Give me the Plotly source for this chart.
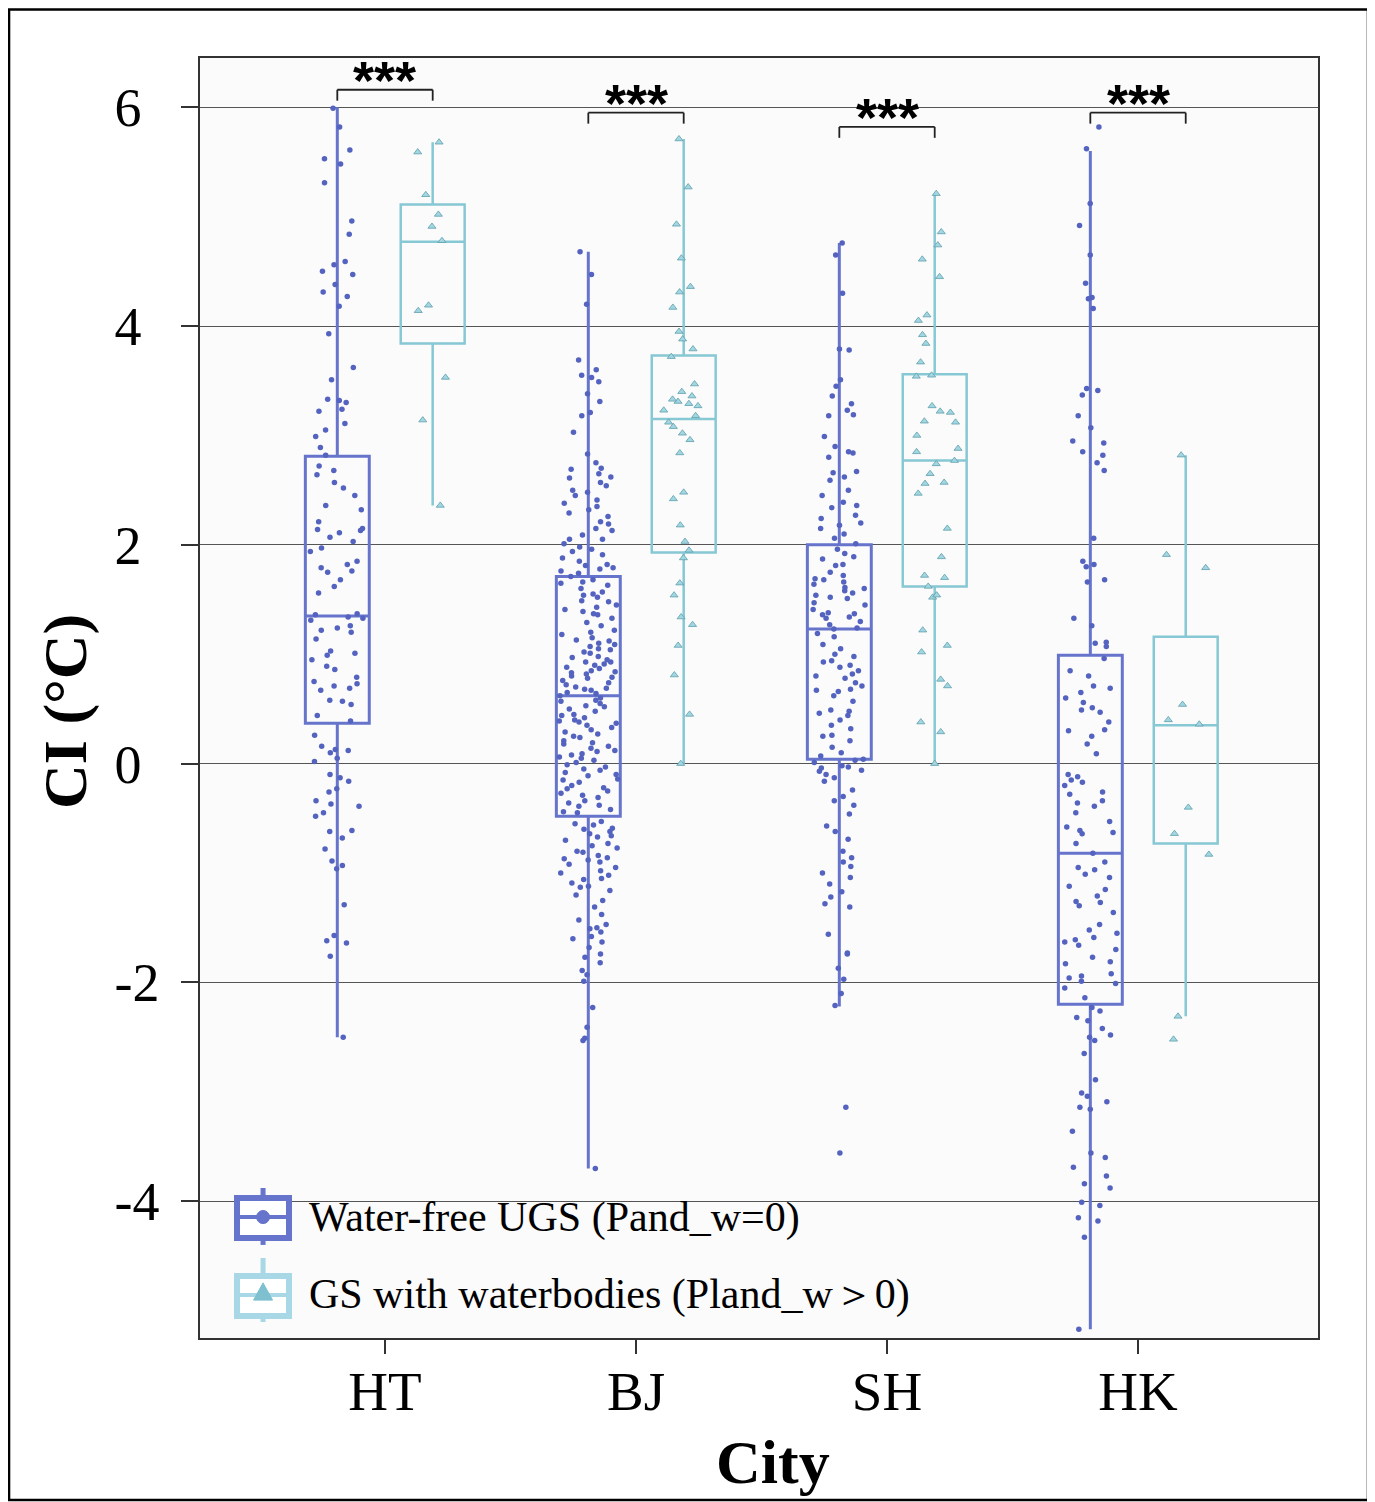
import plotly.graph_objects as go

# ---------------- data ----------------
cities = ["HT", "BJ", "SH", "HK"]
series_names = ["Water-free UGS (Pand_w=0)", "GS with waterbodies (Pland_w＞0)"]
x_title = "City"
y_title = "CI (°C)"

free_q1 = [0.37, -0.48, 0.04, -2.20]
free_median = [1.35, 0.62, 1.23, -0.82]
free_q3 = [2.81, 1.71, 2.00, 0.99]
free_lower = [-2.50, -3.70, -2.22, -5.17]
free_upper = [6.00, 4.68, 4.76, 5.60]

water_q1 = [3.84, 1.93, 1.62, -0.73]
water_median = [4.77, 3.15, 2.77, 0.35]
water_q3 = [5.11, 3.73, 3.56, 1.16]
water_lower = [2.36, 0.00, 0.00, -2.31]
water_upper = [5.68, 5.71, 5.21, 2.82]

ht_free = [5.99, 5.82, 5.61, 5.53, 5.48, 5.31, 4.96, 4.84, 4.59, 4.56, 4.50, 4.47, 4.38, 4.31,
           4.27, 4.18, 3.93, 3.62, 3.51, 3.33, 3.32, 3.30, 3.24, 3.22, 3.11, 3.05, 2.99, 2.89,
           2.82, 2.72, 2.68, 2.64, 2.57, 2.52, 2.45, 2.36, 2.32, 2.21, 2.15, 2.14, 2.13, 2.11,
           2.07, 2.03, 1.97, 1.94, 1.85, 1.82, 1.79, 1.76, 1.75, 1.68, 1.62, 1.56, 1.37, 1.36,
           1.34, 1.33, 1.31, 1.26, 1.24, 1.22, 1.20, 1.14, 1.03, 1.01, 0.99, 0.95, 0.89, 0.86,
           0.79, 0.75, 0.73, 0.71, 0.69, 0.67, 0.58, 0.57, 0.54, 0.44, 0.39, 0.26, 0.16, 0.13,
           0.12, 0.10, 0.05, 0.02, -0.10, -0.13, -0.16, -0.23, -0.26, -0.34, -0.37, -0.39,
           -0.45, -0.48, -0.61, -0.62, -0.68, -0.78, -0.89, -0.93, -0.96, -1.29, -1.57, -1.62,
           -1.64, -1.76, -2.50]

bj_free = [4.68, 4.47, 4.20, 3.69, 3.60, 3.55, 3.53, 3.49, 3.38, 3.31, 3.21, 3.18, 3.03, 2.83,
           2.75, 2.69, 2.65, 2.61, 2.57, 2.54, 2.48, 2.45, 2.41, 2.35, 2.29, 2.26, 2.21, 2.19,
           2.13, 2.09, 2.05, 2.01, 1.96, 1.94, 1.91, 1.85, 1.82, 1.81, 1.78, 1.76, 1.74, 1.71,
           1.68, 1.66, 1.63, 1.57, 1.54, 1.52, 1.49, 1.45, 1.41, 1.39, 1.36, 1.29, 1.26, 1.18,
           1.15, 1.12, 1.09, 1.07, 1.04, 1.02, 1.01, 0.98, 0.95, 0.93, 0.90, 0.88, 0.87, 0.84,
           0.83, 0.80, 0.78, 0.74, 0.72, 0.69, 0.67, 0.65, 0.62, 0.60, 0.57, 0.55, 0.52, 0.48,
           0.45, 0.42, 0.39, 0.38, 0.35, 0.33, 0.29, 0.27, 0.24, 0.21, 0.18, 0.14, 0.11, 0.09,
           0.06, 0.05, 0.01, -0.03, -0.06, -0.08, -0.11, -0.14, -0.17, -0.20, -0.23, -0.27,
           -0.29, -0.34, -0.36, -0.39, -0.42, -0.45, -0.53, -0.56, -0.59, -0.62, -0.64, -0.67,
           -0.73, -0.77, -0.80, -0.81, -0.84, -0.87, -0.90, -0.95, -1.00, -1.02, -1.06, -1.09,
           -1.12, -1.13, -1.16, -1.31, -1.43, -1.47, -1.50, -1.51, -1.54, -1.60, -1.63, -1.68,
           -1.74, -1.77, -1.82, -1.89, -1.93, -1.99, -2.23, -2.41, -2.51, -2.53, -3.70,
           1.60, 1.55, 1.43, 1.33, 1.22, 1.20, 1.13, 1.05, 0.97, 0.91, 0.85, 0.79, 0.76, 0.70,
           0.64, 0.58, 0.50, 0.44, 0.37, 0.31, 0.25, 0.19, 0.12, 0.08, 0.03, -0.01, -0.10,
           -0.15, -0.22, -0.31, -0.38, -0.44, 1.65, 1.48, 1.37, 1.10, 0.93, 0.82, 0.68, 0.53,
           0.40, 0.16, -0.05, -0.25, 2.70, 2.50, 2.32, 2.15, 2.05, 1.98, 1.88, 1.79, 2.62, 2.38,
           -0.55, -0.60, -0.70, -0.75, -0.86, -0.92, -0.98, -1.05, -1.20, -1.25, -0.66, -0.88,
           -1.38, -1.58]

sh_free = [4.76, 4.65, 4.30, 3.79, 3.78, 3.51, 3.45, 3.36, 3.29, 3.23, 3.19, 3.18, 2.99, 2.90,
           2.85, 2.84, 2.67, 2.66, 2.62, 2.59, 2.50, 2.39, 2.36, 2.34, 2.27, 2.24, 2.18, 2.15,
           2.10, 2.06, 2.01, 1.96, 1.89, 1.87, 1.82, 1.81, 1.72, 1.69, 1.68, 1.66, 1.64, 1.61,
           1.58, 1.56, 1.54, 1.52, 1.51, 1.47, 1.45, 1.38, 1.37, 1.36, 1.34, 1.33, 1.27, 1.24,
           1.23, 1.16, 1.09, 1.00, 0.98, 0.94, 0.90, 0.88, 0.82, 0.80, 0.78, 0.74, 0.71, 0.68,
           0.67, 0.66, 0.62, 0.49, 0.48, 0.46, 0.44, 0.35, 0.32, 0.26, 0.25, 0.21, 0.07, 0.04,
           0.03, 0.01, -0.02, -0.03, -0.04, -0.06, -0.07, -0.10, -0.13, -0.16, -0.24, -0.34,
           -0.38, -0.46, -0.57, -0.69, -0.80, -0.86, -0.90, -0.94, -1.00, -1.04, -1.17, -1.22,
           -1.28, -1.31, -1.56, -1.73, -1.74, -1.87, -1.97, -2.10, -2.21, -3.14, -3.56,
           1.92, 1.75, 1.60, 1.41, 1.30, 1.19, 1.05, 0.93, 0.85, 0.57, 0.40, 0.15, 0.10,
           2.45, 2.20, 2.80, -0.30, -0.62, -1.10]

hk_free = [5.82, 5.62, 5.12, 4.92, 4.65, 4.39, 4.26, 4.25, 4.16, 3.43, 3.41, 3.37, 3.18, 3.07,
           2.95, 2.93, 2.85, 2.82, 2.75, 2.68, 2.06, 1.85, 1.82, 1.80, 1.68, 1.66, 1.33, 1.26,
           1.11, 1.10, 1.07, 0.96, 0.85, 0.71, 0.69, 0.60, 0.56, 0.51, 0.49, 0.47, 0.38, 0.31,
           0.25, 0.18, 0.09, -0.10, -0.12, -0.15, -0.17, -0.26, -0.28, -0.34, -0.36, -0.39,
           -0.53, -0.58, -0.61, -0.63, -0.64, -0.73, -0.82, -0.95, -0.97, -1.01, -1.04, -1.12,
           -1.15, -1.21, -1.26, -1.27, -1.36, -1.47, -1.52, -1.55, -1.59, -1.61, -1.63, -1.66,
           -1.77, -1.81, -1.83, -1.92, -1.94, -1.96, -1.99, -2.01, -2.14, -2.23, -2.26, -2.32,
           -2.35, -2.42, -2.48, -2.50, -2.53, -2.65, -2.89, -3.01, -3.04, -3.09, -3.14, -3.16,
           -3.36, -3.56, -3.60, -3.69, -3.77, -3.84, -3.88, -4.01, -4.04, -4.15, -4.18, -4.33,
           -5.17, 0.65, 0.30, -0.45, -0.90, -1.30, -1.70, -2.05, -0.20, 0.80]

ht_water = [5.68, 5.59, 5.20, 5.02, 4.91, 4.78, 4.19, 4.14, 3.53, 3.14, 2.36]
bj_water = [5.71, 5.27, 4.93, 4.62, 4.36, 4.31, 4.17, 3.95, 3.88, 3.79, 3.72, 3.47, 3.40, 3.36,
            3.33, 3.31, 3.29, 3.27, 3.23, 3.18, 3.12, 3.08, 3.02, 2.96, 2.84, 2.48, 2.42, 2.18,
            2.03, 1.95, 1.88, 1.65, 1.54, 1.34, 1.27, 1.08, 0.81, 0.45, 0.00]
sh_water = [5.21, 4.86, 4.74, 4.61, 4.45, 4.10, 4.05, 3.92, 3.84, 3.67, 3.55, 3.54, 3.27, 3.22,
            3.21, 3.13, 3.12, 3.00, 2.88, 2.85, 2.77, 2.74, 2.65, 2.57, 2.56, 2.47, 2.15, 1.89,
            1.72, 1.70, 1.62, 1.54, 1.52, 1.22, 1.08, 1.02, 0.77, 0.71, 0.38, 0.29, 0.00]
hk_water = [2.82, 1.91, 1.79, 0.54, 0.40, 0.36, -0.40, -0.64, -0.83, -2.31, -2.52]

sig_labels = ["***", "***", "***", "***"]
sig_bracket_y = [6.16, 5.95, 5.82, 5.95]

y_tickvals = [-4, -2, 0, 2, 4, 6]
y_ticktext = ["-4", "-2", "0", "2", "4", "6"]

# ---------------- style ----------------
FREE_LINE = "#6674CC"
FREE_PT = "#5463BF"
WATER_LINE = "#86C8D4"
WATER_PT = "#A2D6E2"
SERIF = "Liberation Serif"
BOXGAP = 0.24
BOXGROUPGAP = 0.33
PAD = "\u00a0\u200a"   # pads positive labels so they line up on the left like the original

fig = go.Figure()

fig.add_trace(go.Box(
    name=series_names[0], x=cities,
    y=[ht_free, bj_free, sh_free, hk_free],
    q1=free_q1, median=free_median, q3=free_q3,
    lowerfence=free_lower, upperfence=free_upper,
    boxpoints="all", jitter=0.95, pointpos=0,
    line=dict(color=FREE_LINE, width=3), fillcolor="rgba(0,0,0,0)",
    marker=dict(color=FREE_PT, size=5.5, symbol="circle"),
    whiskerwidth=0, offsetgroup="a", showlegend=False,
))
fig.add_trace(go.Box(
    name=series_names[1], x=cities,
    y=[ht_water, bj_water, sh_water, hk_water],
    q1=water_q1, median=water_median, q3=water_q3,
    lowerfence=water_lower, upperfence=water_upper,
    boxpoints="all", jitter=0.75, pointpos=0,
    line=dict(color=WATER_LINE, width=2.5), fillcolor="rgba(0,0,0,0)",
    marker=dict(color=WATER_PT, size=7, symbol="triangle-up",
                line=dict(color="#5E9FAB", width=0.8)),
    whiskerwidth=0, offsetgroup="b", showlegend=False,
))

# significance brackets
off = 0.25 * (1 - BOXGAP)
leg = 0.1
shapes = []
annotations = []
for i, (lab, yb) in enumerate(zip(sig_labels, sig_bracket_y)):
    x0, x1 = i - off, i + off
    for (a, b, c, d) in [(x0, yb - leg, x0, yb), (x0, yb, x1, yb), (x1, yb, x1, yb - leg)]:
        shapes.append(dict(type="line", xref="x", yref="y", x0=a, y0=b, x1=c, y1=d,
                           line=dict(color="#222222", width=1.8)))
    annotations.append(dict(x=i, y=yb, xref="x", yref="y", text="<b>" + lab + "</b>",
                            showarrow=False, yanchor="bottom", yshift=-22,
                            font=dict(family="Liberation Sans", size=54, color="black")))

# outer frame
shapes.append(dict(type="rect", xref="paper", yref="paper",
                   x0=-0.1708, x1=1.0447, y0=-0.1266, y1=1.0379,
                   line=dict(color="black", width=2.5), fillcolor="rgba(0,0,0,0)", layer="below"))

# hand-drawn legend (large box icons, as in the original)
legend_rows = [
    dict(name=series_names[0], line=FREE_LINE, sym="circle", symcol=FREE_LINE,
         top=0.1094, bot=0.0781, mid=0.0945, wt=0.1172, wb=0.0727),
    dict(name=series_names[1], line="#A8D8E6", sym="triangle", symcol="#7FC0D0",
         top=0.0484, bot=0.0172, mid=0.0336, wt=0.0625, wb=0.0125),
]
ix0, ix1, ixc = 0.0331, 0.0796, 0.0564
for row in legend_rows:
    shapes.append(dict(type="line", xref="paper", yref="paper", x0=ixc, x1=ixc,
                       y0=row["wb"], y1=row["wt"], line=dict(color=row["line"], width=5)))
    shapes.append(dict(type="rect", xref="paper", yref="paper", x0=ix0, x1=ix1,
                       y0=row["bot"], y1=row["top"], fillcolor="#FFFFFF",
                       line=dict(color=row["line"], width=6)))
    shapes.append(dict(type="line", xref="paper", yref="paper", x0=ix0, x1=ix1,
                       y0=row["mid"], y1=row["mid"], line=dict(color=row["line"], width=4)))
    if row["sym"] == "circle":
        shapes.append(dict(type="circle", xref="paper", yref="paper",
                           x0=ixc - 0.0058, x1=ixc + 0.0058, y0=row["mid"] - 0.0051,
                           y1=row["mid"] + 0.0051, fillcolor=row["symcol"],
                           line=dict(color=row["symcol"], width=1)))
    else:
        shapes.append(dict(type="path", xref="paper", yref="paper",
                           path=f"M {ixc - 0.0085},{row['mid'] - 0.004} L {ixc + 0.0085},{row['mid'] - 0.004} "
                                f"L {ixc},{row['mid'] + 0.0095} Z",
                           fillcolor=row["symcol"], line=dict(color=row["symcol"], width=1)))
    annotations.append(dict(x=0.0957, y=row["mid"], xref="paper", yref="paper",
                            text=row["name"], showarrow=False, xanchor="left", yanchor="middle",
                            font=dict(family=SERIF, size=42, color="black")))

# axis titles placed as in the original (slightly off-centre)
annotations.append(dict(x=0.5125, y=-0.0965, xref="paper", yref="paper",
                        text="<b>" + x_title + "</b>", showarrow=False,
                        xanchor="center", yanchor="middle",
                        font=dict(family=SERIF, size=62, color="black")))
annotations.append(dict(x=-0.1208, y=0.4898, xref="paper", yref="paper",
                        text="<b>" + y_title + "</b>", showarrow=False, textangle=-90,
                        xanchor="center", yanchor="middle",
                        font=dict(family=SERIF, size=62, color="black")))

fig.update_layout(
    width=1367, height=1494,
    margin=dict(l=192, r=57, t=50, b=164),
    paper_bgcolor="white", plot_bgcolor="#FBFBFB",
    boxmode="group", boxgap=BOXGAP, boxgroupgap=BOXGROUPGAP,
    font=dict(family=SERIF, color="black"),
    showlegend=False,
    shapes=shapes, annotations=annotations,
)
fig.update_xaxes(
    type="category", range=[-0.737, 3.717],
    showline=True, mirror=True, linecolor="#333333", linewidth=1.5,
    ticks="outside", ticklen=14, tickcolor="#333333", tickwidth=1.5,
    tickfont=dict(family=SERIF, size=55), ticklabelstandoff=-10,
    showgrid=False, zeroline=False,
)
fig.update_yaxes(
    range=[-5.25, 6.45],
    tickvals=y_tickvals,
    ticktext=[t if t.startswith("-") else t + PAD for t in y_ticktext],
    showline=True, mirror=True, linecolor="#333333", linewidth=1.5,
    ticks="outside", ticklen=17, tickcolor="#333333", tickwidth=1.5,
    tickfont=dict(family=SERIF, size=54), ticklabelstandoff=11,
    showgrid=True, gridcolor="#555555", gridwidth=1, zeroline=False,
)

fig.write_html("out.html")
